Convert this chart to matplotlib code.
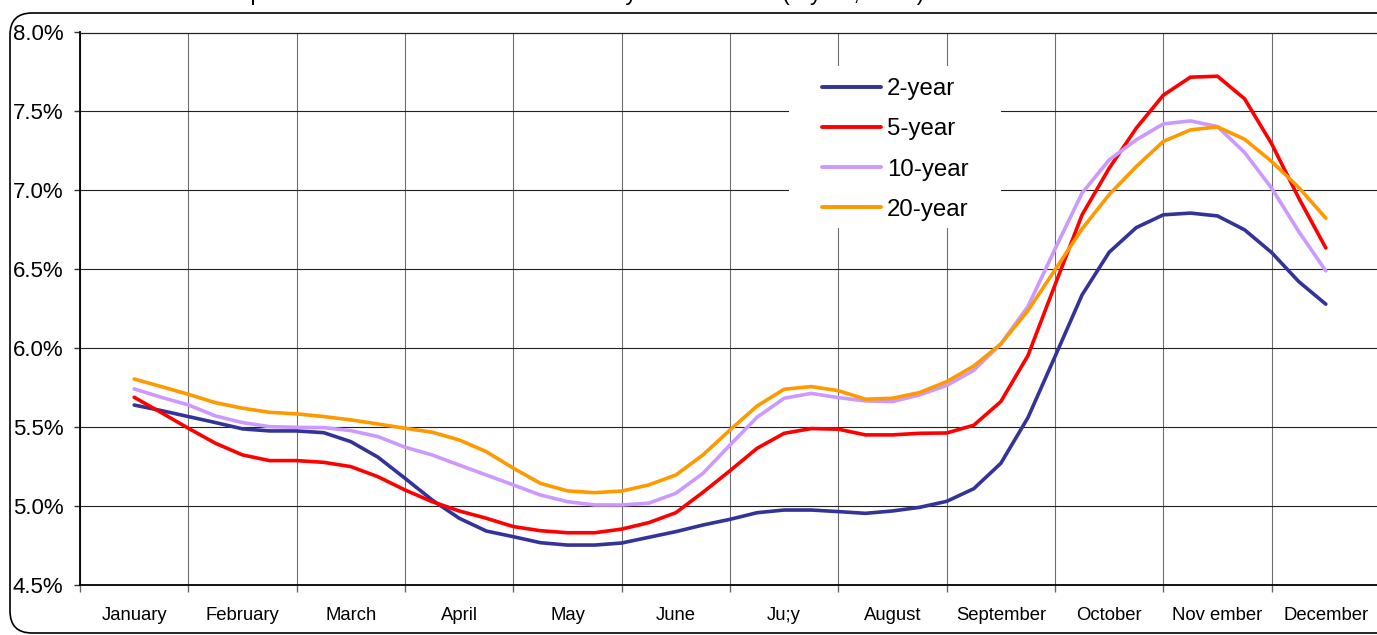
import numpy as np
import matplotlib
matplotlib.use("Agg")
import matplotlib.pyplot as plt
from matplotlib.patches import FancyBboxPatch, Rectangle

plt.rcParams["font.family"] = ["Liberation Sans", "DejaVu Sans"]

# ---- data -------------------------------------------------------------
months = ["January", "February", "March", "April", "May", "June",
          "Ju;y", "August", "September", "October", "Nov ember", "December"]
series_names = ["2-year", "5-year", "10-year", "20-year"]

# weekly observations, mid-January to mid-December (in %)
yield_2y = [5.640, 5.605, 5.567, 5.529, 5.489, 5.476, 5.476, 5.465, 5.408, 5.310,
            5.176, 5.039, 4.923, 4.842, 4.806, 4.768, 4.753, 4.753, 4.766, 4.802,
            4.838, 4.880, 4.916, 4.958, 4.975, 4.975, 4.965, 4.954, 4.969, 4.992,
            5.030, 5.110, 5.271, 5.560, 5.947, 6.338, 6.608, 6.764, 6.845, 6.856,
            6.838, 6.750, 6.606, 6.422, 6.279]
yield_5y = [5.689, 5.592, 5.493, 5.398, 5.324, 5.288, 5.288, 5.277, 5.250, 5.186,
            5.102, 5.028, 4.969, 4.923, 4.870, 4.844, 4.831, 4.831, 4.854, 4.895,
            4.958, 5.087, 5.224, 5.366, 5.461, 5.491, 5.487, 5.451, 5.451, 5.461,
            5.463, 5.512, 5.662, 5.953, 6.401, 6.845, 7.140, 7.394, 7.603, 7.717,
            7.723, 7.580, 7.295, 6.951, 6.635]
yield_10y = [5.742, 5.689, 5.641, 5.571, 5.529, 5.503, 5.499, 5.497, 5.478, 5.440,
             5.373, 5.324, 5.260, 5.197, 5.134, 5.070, 5.028, 5.007, 5.007, 5.018,
             5.081, 5.207, 5.387, 5.563, 5.683, 5.714, 5.687, 5.666, 5.662, 5.704,
             5.764, 5.860, 6.027, 6.264, 6.628, 6.983, 7.193, 7.320, 7.421, 7.440,
             7.404, 7.240, 7.014, 6.739, 6.490]
yield_20y = [5.805, 5.757, 5.708, 5.655, 5.620, 5.594, 5.584, 5.567, 5.546, 5.520,
             5.493, 5.468, 5.419, 5.345, 5.240, 5.144, 5.096, 5.085, 5.095, 5.134,
             5.197, 5.324, 5.482, 5.634, 5.740, 5.757, 5.731, 5.677, 5.683, 5.719,
             5.788, 5.887, 6.027, 6.238, 6.496, 6.756, 6.973, 7.151, 7.310, 7.383,
             7.402, 7.324, 7.183, 7.018, 6.824]
y_ticks = [4.5, 5.0, 5.5, 6.0, 6.5, 7.0, 7.5, 8.0]

colors = ["#333399", "#FF0000", "#CC99FF", "#FF9900"]
title = ("Interest rate swaps: term structure observed over the year "
         "in months (5-year, 2008)")

# ---- figure -----------------------------------------------------------
W, H = 1377, 635
fig = plt.figure(figsize=(W / 100, H / 100), dpi=100)
fig.patch.set_facecolor("white")

# rounded outer frame (its right side runs past the canvas)
frame = FancyBboxPatch((0.10, 0.02), 14.2, 6.20,
                       boxstyle="round,pad=0,rounding_size=0.22",
                       transform=fig.dpi_scale_trans, fill=False,
                       ec="black", lw=1.2)
fig.patches.append(frame)

fig.text(81 / W, 1 + 0.5 / H, title, fontsize=16.5, ha="left", va="baseline")

ax = fig.add_axes([80 / W, 1 - 585 / H, 1300 / W, 552.5 / H])

positions = 0.5 + np.arange(len(yield_2y)) / 4.0
for vals, name, c in zip([yield_2y, yield_5y, yield_10y, yield_20y],
                         series_names, colors):
    ax.plot(positions, vals, color=c, lw=2.6, label=name,
            solid_capstyle="round", solid_joinstyle="round", zorder=3)

ax.set_xlim(0, 12)
ax.set_ylim(4.5, 8.0)

# month boundaries carry grid + ticks; month centres carry the labels
ax.set_xticks(np.arange(0, 13))
ax.set_xticklabels([])
ax.set_xticks(np.arange(12) + 0.5, minor=True)
ax.set_xticklabels(months, minor=True, fontsize=13.3)
ax.tick_params(axis="x", which="major", direction="out", length=5,
               width=1.0, color="#666666")
ax.tick_params(axis="x", which="minor", length=0, pad=16)

ax.set_yticks(y_ticks)
ax.set_yticklabels([f"{v:.1f}%" for v in y_ticks], fontsize=16)
ax.tick_params(axis="y", direction="out", length=4, width=1.0,
               color="#333333", pad=8)

ax.set_axisbelow(True)
ax.xaxis.grid(True, which="major", color="#6e6e6e", lw=0.8)
ax.yaxis.grid(True, color="#222222", lw=0.8)

for side in ("left", "bottom"):
    ax.spines[side].set_color("black")
    ax.spines[side].set_linewidth(1.3)
ax.spines["top"].set_color("#222222")
ax.spines["top"].set_linewidth(0.9)
ax.spines["right"].set_visible(False)

# white legend area
ax.add_patch(Rectangle((789 / W, 1 - 228 / H), 212 / W, 162 / H,
                       transform=fig.transFigure, facecolor="white",
                       edgecolor="none", zorder=1.5))
leg = ax.legend(loc="upper left", bbox_to_anchor=(822 / W, 1 - 78 / H),
                bbox_transform=fig.transFigure, frameon=False,
                fontsize=17.3, borderpad=0, borderaxespad=0,
                handlelength=2.45, handletextpad=0.25, labelspacing=0.76)
for line in leg.get_lines():
    line.set_linewidth(2.8)

fig.savefig("out.png", dpi=100)
